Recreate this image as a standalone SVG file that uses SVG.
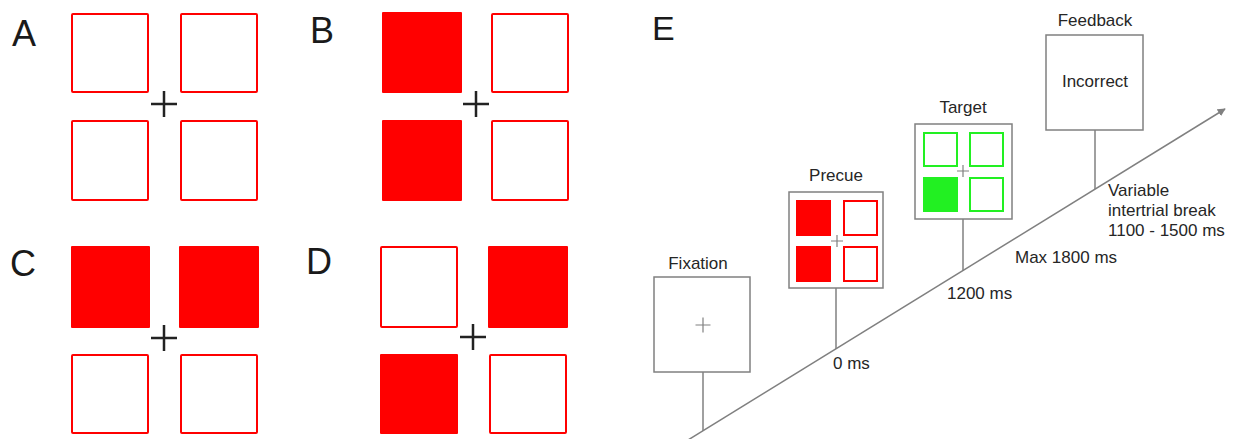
<svg xmlns="http://www.w3.org/2000/svg" width="1239" height="439" viewBox="0 0 1239 439">
<style>
.lbl{font-family:"Liberation Sans",Arial,sans-serif;font-size:36px;fill:#1a1a1a}
.t{font-family:"Liberation Sans",Arial,sans-serif;font-size:17px;fill:#262626}
.ro{fill:#fff;stroke:#ff0000;stroke-width:2}
.rf{fill:#ff0000;stroke:none}
.go{fill:#fff;stroke:#22f022;stroke-width:2}
.gf{fill:#22f022;stroke:none}
.cross{stroke:#222;stroke-width:2.5;fill:none}
.sc{stroke:#808080;stroke-width:1.2;fill:none}
.box{fill:#fff;stroke:#808080;stroke-width:1.5}
.ln{stroke:#808080;stroke-width:1.5;fill:none}
</style>
<defs>
<marker id="arr" viewBox="0 0 10 10" refX="9" refY="5" markerWidth="8" markerHeight="8" markerUnits="userSpaceOnUse" orient="auto">
<path d="M0,0 L10,5 L0,10 z" fill="#808080"/>
</marker>
</defs>

<g id="panelA">
<text class="lbl" x="12" y="46">A</text>
<rect class="ro" x="72" y="14" width="76" height="78" rx="1"/>
<rect class="ro" x="181" y="14" width="76" height="78" rx="1"/>
<rect class="ro" x="72" y="121" width="76" height="79" rx="1"/>
<rect class="ro" x="181" y="121" width="76" height="79" rx="1"/>
<path class="cross" d="M151,104 H177 M164,91 V117"/>
</g>

<g id="panelB">
<text class="lbl" x="310" y="43">B</text>
<rect class="rf" x="382" y="12" width="80" height="81" rx="1"/>
<rect class="ro" x="492" y="14" width="76" height="78" rx="1"/>
<rect class="rf" x="382" y="120" width="80" height="81" rx="1"/>
<rect class="ro" x="492" y="121" width="76" height="79" rx="1"/>
<path class="cross" d="M463,104 H489 M476,91 V117"/>
</g>

<g id="panelC">
<text class="lbl" x="10" y="276">C</text>
<rect class="rf" x="71" y="246" width="79" height="82" rx="1"/>
<rect class="rf" x="179" y="246" width="80" height="82" rx="1"/>
<rect class="ro" x="72" y="355" width="76" height="78" rx="1"/>
<rect class="ro" x="181" y="355" width="76" height="78" rx="1"/>
<path class="cross" d="M151,338 H177 M164,325 V351"/>
</g>

<g id="panelD">
<text class="lbl" x="306" y="274">D</text>
<rect class="ro" x="381" y="247" width="76" height="80" rx="1"/>
<rect class="rf" x="488" y="246" width="80" height="82" rx="1"/>
<rect class="rf" x="380" y="354" width="78" height="80" rx="1"/>
<rect class="ro" x="490" y="355" width="76" height="78" rx="1"/>
<path class="cross" d="M460,337 H486 M473,324 V350"/>
</g>

<g id="panelE-label">
<text class="lbl" x="652" y="40" style="font-size:34px">E</text>
</g>

<g id="connectors">
<line class="ln" x1="688" y1="440" x2="1225" y2="109" marker-end="url(#arr)"/>
<line class="ln" x1="703" y1="372" x2="703" y2="431"/>
<line class="ln" x1="836" y1="288" x2="836" y2="349"/>
<line class="ln" x1="963" y1="219" x2="963" y2="271"/>
<line class="ln" x1="1095" y1="130" x2="1095" y2="189"/>
</g>

<g id="fixation">
<text class="t" x="698" y="269" text-anchor="middle">Fixation</text>
<rect class="box" x="654" y="277" width="96" height="95"/>
<path class="sc" d="M695.5,325 H710.5 M703,317.5 V332.5"/>
</g>

<g id="precue">
<text class="t" x="836" y="181" text-anchor="middle">Precue</text>
<rect class="box" x="789" y="192" width="94" height="96"/>
<rect class="rf" x="796" y="200" width="35" height="36"/>
<rect class="ro" x="844" y="201" width="33" height="34"/>
<rect class="rf" x="796" y="246" width="35" height="36"/>
<rect class="ro" x="844" y="247" width="33" height="34"/>
<path class="sc" d="M831,241 H843 M837,235 V247"/>
</g>

<g id="target">
<text class="t" x="963" y="113" text-anchor="middle">Target</text>
<rect class="box" x="915" y="124" width="97" height="95"/>
<rect class="go" x="924" y="133" width="33" height="33"/>
<rect class="go" x="970" y="133" width="33" height="33"/>
<rect class="gf" x="923" y="177" width="35" height="35"/>
<rect class="go" x="970" y="178" width="33" height="33"/>
<path class="sc" d="M957,171 H969 M963,165 V177"/>
</g>

<g id="feedback">
<text class="t" x="1095" y="26" text-anchor="middle">Feedback</text>
<rect class="box" x="1046" y="35" width="97" height="95"/>
<text class="t" x="1095" y="87" text-anchor="middle">Incorrect</text>
</g>

<g id="timelabels">
<text class="t" x="833" y="369">0 ms</text>
<text class="t" x="947" y="299">1200 ms</text>
<text class="t" x="1015" y="263">Max 1800 ms</text>
<text class="t" x="1108" y="196">Variable</text>
<text class="t" x="1108" y="216">intertrial break</text>
<text class="t" x="1108" y="236">1100 - 1500 ms</text>
</g>
</svg>
